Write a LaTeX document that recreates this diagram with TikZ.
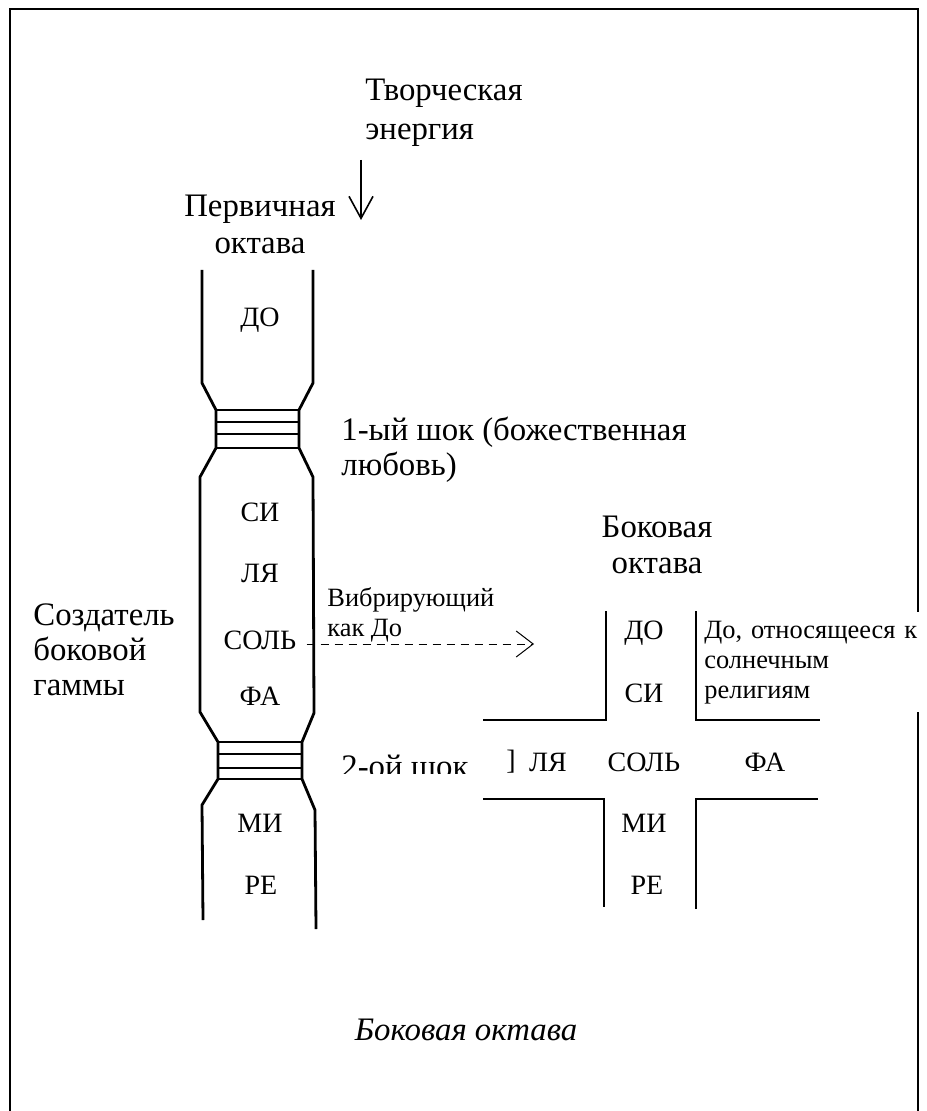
\documentclass[tikz,border=0pt]{standalone}
\usepackage{fontspec}
\setmainfont{Liberation Serif}
\usetikzlibrary{arrows.meta}
\tikzset{
  octline/.style={line width=1.4pt},
  bigtext/.style={font=\fontsize{16.4}{17.5}\selectfont, inner sep=0pt},
  tonetext/.style={font=\fontsize{14}{15}\selectfont, inner sep=0pt},
  smalltext/.style={font=\fontsize{13.2}{15}\selectfont, inner sep=0pt},
}

\begin{document}
\begin{tikzpicture}[x=0.5pt, y=-0.5pt]
\useasboundingbox (0,0) rectangle (926,1111);
% Frame
\draw[line width=1.1pt] (10,1111) -- (10,9) -- (918,9) -- (918,1111);

% Creative energy
\node[bigtext, anchor=west, align=left, font=\fontsize{16.4}{19.5}\selectfont] (energy) at (365,113) {Творческая\\энергия};
\coordinate (energytop) at (361,160);
\coordinate (energytip) at (361,220);
\draw[-{Straight Barb[length=11pt,width=12pt]}, line width=0.8pt] (energytop) -- (energytip);

% Primary octave
\node[bigtext, align=center, font=\fontsize{16.4}{18.5}\selectfont] (primary) at (260,224) {Первичная\\октава};
\draw[octline] (202,270) -- (202,383) -- (216,410) -- (216,448) -- (200,477) -- (200,712) -- (218,742) -- (218,779) -- (202,805) -- (203,920);
\draw[octline] (313,270) -- (313,383) -- (299,410) -- (299,448) -- (313,477) -- (314,713) -- (302,742) -- (302,779) -- (315,810) -- (316,929);
% first shock
\draw[octline] (216,410) -- (299,410);
\draw[octline] (216,422) -- (299,422);
\draw[octline] (216,434) -- (299,434);
\draw[octline] (216,448) -- (299,448);
% second shock
\draw[octline] (218,742) -- (302,742);
\draw[octline] (218,754) -- (302,754);
\draw[octline] (218,768) -- (302,768);
\draw[octline] (218,779) -- (302,779);

\node[tonetext] (pdo) at (260,320) {ДО};
\node[tonetext] (psi) at (260,512) {СИ};
\node[tonetext] (pla) at (260,573) {ЛЯ};
\node[tonetext] (psol) at (260,640) {СОЛЬ};
\node[tonetext] (pfa) at (260,696) {ФА};
\node[tonetext] (pmi) at (260,823) {МИ};
\node[tonetext] (pre) at (261,885) {РЕ};

\node[bigtext, anchor=west, align=left] (shock1) at (341,450) {1-ый шок (божественная\\любовь)};
\begin{scope}
\clip (330,700) rectangle (480,773);
\node[bigtext, anchor=base west] (shock2) at (341,777) {2-ой шок};
\end{scope}

% Creator of the side scale
\node[bigtext, anchor=west, align=left] (creator) at (33,650) {Создатель\\боковой\\гаммы};
\node[smalltext, anchor=west, align=left] (vibr) at (327,615) {Вибрирующий\\как До};
\coordinate (vibtip) at (534,644);
\draw[dash pattern=on 4pt off 3pt, line width=0.5pt, shorten <=5pt, -{Straight Barb[length=8.5pt,width=13pt]}] (psol.east |- vibtip) -- (vibtip);

% Side octave
\node[bigtext, align=center, font=\fontsize{16.4}{18}\selectfont] (side) at (657,545) {Боковая\\октава};
\draw[octline] (483,720) -- (606,720) -- (606,611);
\draw[octline] (696,611) -- (696,720) -- (820,720);
\draw[octline] (483,799) -- (604,799) -- (604,907);
\draw[octline] (696,909) -- (696,799) -- (818,799);

\node[tonetext] (sdo) at (644,633) {ДО};
\node[tonetext] (ssi) at (644,693) {СИ};
\node[tonetext] (bracket) at (511,762) {]};
\node[tonetext] (sla) at (548,762) {ЛЯ};
\node[tonetext] (ssol) at (644,762) {СОЛЬ};
\node[tonetext] (sfa) at (765,762) {ФА};
\node[tonetext] (smi) at (644,823) {МИ};
\node[tonetext] (sre) at (647,885) {РЕ};

\node[smalltext, fill=white, anchor=north west, align=left, text width=109pt, minimum height=50pt, inner xsep=2pt] (solar) at (700,612) {До, относящееся к\\солнечным\\религиям};

% Caption
\node[bigtext, font=\itshape\fontsize{16.4}{18}\selectfont] (caption) at (466,1030) {Боковая октава};
\end{tikzpicture}
\end{document}
